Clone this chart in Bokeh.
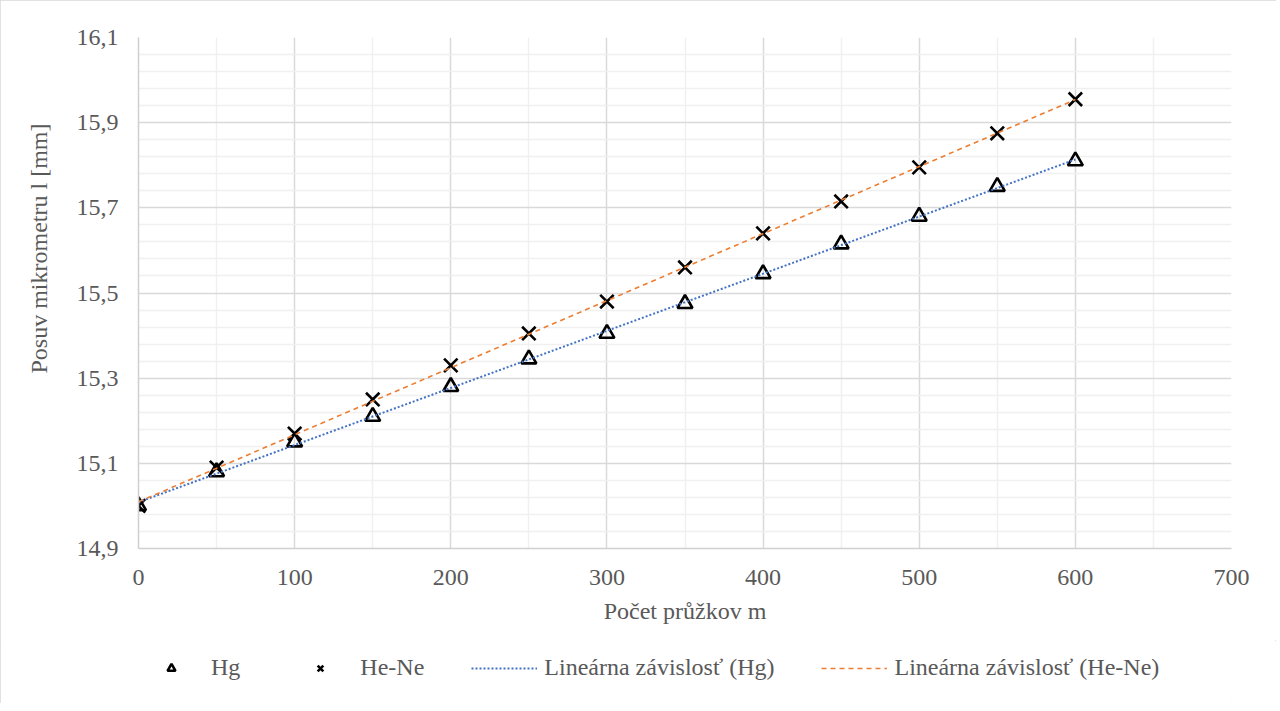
import numpy as np
from bokeh.plotting import figure
from bokeh.layouts import column
from bokeh.models import (FixedTicker, CustomJSTickFormatter, Legend, LegendItem,
                          Range1d, Title)
from bokeh.embed import file_html
from bokeh.resources import INLINE

# ---- data ----
m = [0, 50, 100, 150, 200, 250, 300, 350, 400, 450, 500, 550, 600]
hg = [15.00, 15.08, 15.15, 15.21, 15.28, 15.345, 15.405, 15.475, 15.545, 15.615, 15.68, 15.75, 15.81]
hene = [15.00, 15.09, 15.17, 15.25, 15.33, 15.405, 15.48, 15.56, 15.64, 15.715, 15.795, 15.875, 15.955]
series_names = ["Hg", "He-Ne"]
trend_names = ["Lineárna závislosť (Hg)", "Lineárna závislosť (He-Ne)"]
x_title = "Počet průžkov m"
y_title = "Posuv mikrometru l [mm]"
x_ticks = [0, 100, 200, 300, 400, 500, 600, 700]
y_ticks = [14.9, 15.1, 15.3, 15.5, 15.7, 15.9, 16.1]

FONT = "'Liberation Serif'"
TXT = "#595959"
W = 1276

p = figure(width=W, height=640, output_backend="svg", toolbar_location=None,
           x_range=Range1d(0, 700), y_range=Range1d(14.9, 16.1),
           min_border_left=138, min_border_right=45, min_border_top=37,
           min_border_bottom=92)
p.outline_line_color = None
p.background_fill_color = "white"
p.border_fill_color = "white"

# axes / ticks
x_minor = [50, 150, 250, 350, 450, 550, 650]
y_minor = [round(v, 2) for v in np.arange(14.94, 16.1, 0.04) if round((v - 14.9) / 0.2, 6) % 1 != 0]
p.xaxis.ticker = FixedTicker(ticks=x_ticks, minor_ticks=x_minor)
p.yaxis.ticker = FixedTicker(ticks=y_ticks, minor_ticks=y_minor)
p.yaxis.formatter = CustomJSTickFormatter(code="return tick.toFixed(1).replace('.', ',');")

for ax in (p.xaxis[0], p.yaxis[0]):
    ax.major_tick_line_color = None
    ax.minor_tick_line_color = None
    ax.major_tick_in = 0
    ax.major_tick_out = 0
    ax.minor_tick_in = 0
    ax.minor_tick_out = 0
    ax.axis_line_color = "#d0d0d0"
    ax.axis_line_width = 1.5
    ax.major_label_text_font = FONT
    ax.major_label_text_font_size = "24px"
    ax.major_label_text_color = TXT
    ax.axis_label_text_font = FONT
    ax.axis_label_text_font_size = "24px"
    ax.axis_label_text_font_style = "normal"
    ax.axis_label_text_color = TXT

p.xaxis.major_label_standoff = 21
p.yaxis.major_label_standoff = 20
p.xaxis.axis_label = x_title
p.xaxis.axis_label_standoff = 10

# y title (left panel, its upper end placed like the reference)
yt = Title(text=y_title, align="right", offset=86, standoff=43,
           text_font=FONT, text_font_size="24px", text_color=TXT,
           text_font_style="normal")
p.add_layout(yt, "left")

# grids
p.xgrid.grid_line_color = "#d9d9d9"
p.ygrid.grid_line_color = "#d9d9d9"
p.xgrid.grid_line_width = 1.5
p.ygrid.grid_line_width = 1.5
p.xgrid.minor_grid_line_color = "#f0f0f0"
p.ygrid.minor_grid_line_color = "#f0f0f0"
p.xgrid.minor_grid_line_width = 1.5
p.ygrid.minor_grid_line_width = 1.5

HG_STYLE = dict(marker="triangle", fill_color=None, line_color="black", line_width=2.6)
HENE_STYLE = dict(marker="x", line_color="black", line_width=2.6)
T1_STYLE = dict(line_color="#4472C4", line_width=2, line_dash="2 2")
T2_STYLE = dict(line_color="#ED7D31", line_width=1.6, line_dash="5 4")

# markers
p.scatter(m, hg, size=15, **HG_STYLE)
p.scatter(m, hene, size=19, **HENE_STYLE)

# trendlines (least-squares fit of each series)
k1, q1 = np.polyfit(m, hg, 1)
k2, q2 = np.polyfit(m, hene, 1)
xs = [m[0], m[-1]]
p.line(xs, [q1 + k1 * xs[0], q1 + k1 * xs[1]], **T1_STYLE)
p.line(xs, [q2 + k2 * xs[0], q2 + k2 * xs[1]], **T2_STYLE)

# ---- legend strip below the chart ----
# (same series, outside this strip's visible range: only their legend glyphs show)
lf = figure(width=W, height=63, output_backend="svg", toolbar_location=None,
            x_range=Range1d(0, 1), y_range=Range1d(0, 1),
            min_border=0, min_border_left=0, min_border_right=0,
            min_border_top=0, min_border_bottom=0)
lf.axis.visible = False
lf.grid.visible = False
lf.outline_line_color = None
lf.background_fill_color = "white"
lf.border_fill_color = "white"

l_hg = lf.scatter(m, hg, size=15, **HG_STYLE)
l_hene = lf.scatter(m, hene, size=19, **HENE_STYLE)
l_t1 = lf.line(m, hg, **T1_STYLE)
l_t2 = lf.line(m, hene, **T2_STYLE)

lg = Legend(items=[LegendItem(label=series_names[0], renderers=[l_hg]),
                   LegendItem(label=series_names[1], renderers=[l_hene]),
                   LegendItem(label=trend_names[0], renderers=[l_t1]),
                   LegendItem(label=trend_names[1], renderers=[l_t2])],
            location=(0, 22))
lg.orientation = "horizontal"
lg.padding = 0
lg.margin = 0
lg.border_line_color = None
lg.background_fill_alpha = 0
lg.label_text_font = FONT
lg.label_text_font_size = "24px"
lg.label_text_color = TXT
lg.glyph_height = 20
lg.label_height = 20
lg.glyph_width = 66
lg.label_standoff = 7
lg.spacing = 47
lf.add_layout(lg)

layout = column(p, lf, spacing=0,
                styles={"outline": "1px solid #d9d9d9", "outline-offset": "-1px"})

open("out.html", "w").write(file_html(layout, INLINE))
